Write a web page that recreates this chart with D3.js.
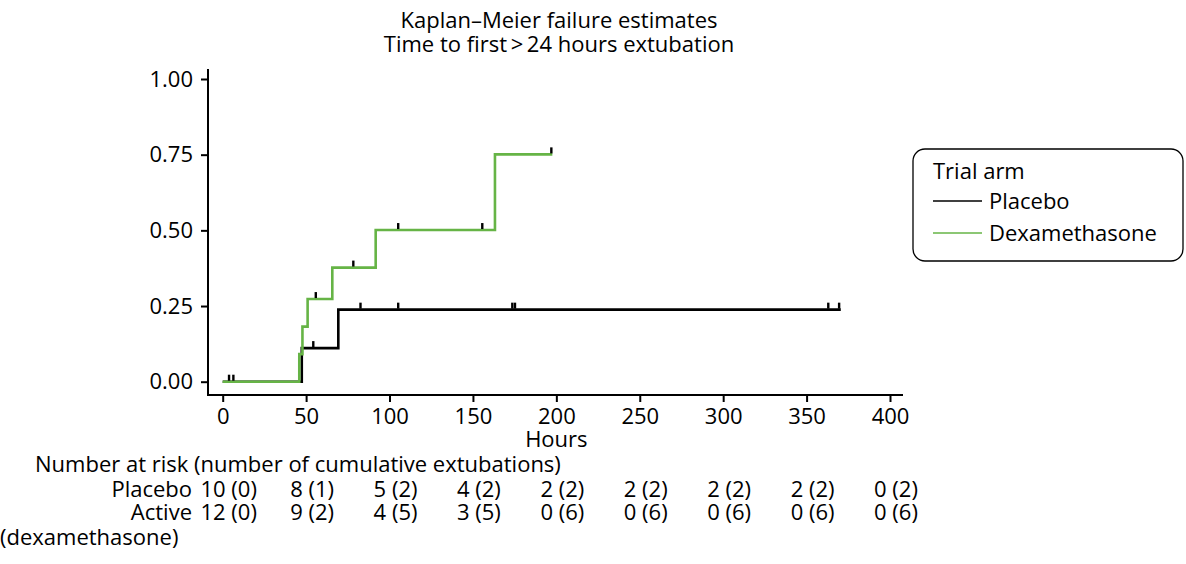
<!DOCTYPE html>
<html>
<head>
<meta charset="utf-8">
<script src="https://cdn.jsdelivr.net/npm/d3@7"></script>
<style>
  body { margin: 0; background: #fff; }
  text { font-family: "Open Sans", "Noto Sans", sans-serif; fill: #000; }
</style>
</head>
<body>
<script>
var width = 1186,
    height = 564,
    fontSize = "22px";

// Kaplan-Meier failure steps: [hours, cumulative failure]
var placeboSteps = [[0, 0], [47.4, 0.111], [69.3, 0.238], [370.5, 0.238]];
var dexaSteps = [[0, 0], [45.9, 0.091], [47.8, 0.182], [50.9, 0.273], [65.7, 0.377],
                 [91.7, 0.501], [163.2, 0.751], [197.6, 0.751]];
// censored observations: [hours, failure level]
var placeboCensor = [[3.8, 0], [54.3, 0.111], [82.6, 0.238], [105.2, 0.238], [173.6, 0.238],
                     [175.2, 0.238], [363, 0.238], [369.5, 0.238]];
var dexaCensor = [[6.4, 0], [55.8, 0.273], [78.3, 0.377], [105.2, 0.501], [155.6, 0.501], [197, 0.751]];

var xTicks = [0, 50, 100, 150, 200, 250, 300, 350, 400];
var yTicks = [0, 0.25, 0.5, 0.75, 1];
var riskTimes = [0, 50, 100, 150, 200, 250, 300, 350, 400];
var placeboAtRisk = [10, 8, 5, 4, 2, 2, 2, 2, 0];
var placeboCum = [0, 1, 2, 2, 2, 2, 2, 2, 2];
var activeAtRisk = [12, 9, 4, 3, 0, 0, 0, 0, 0];
var activeCum = [0, 2, 5, 5, 6, 6, 6, 6, 6];
var arms = ["Placebo", "Dexamethasone"];
var armColors = ["#000000", "#66b446"];

var x = d3.scaleLinear().domain([0, 400]).range([222.7, 890]);
var y = d3.scaleLinear().domain([0, 1]).range([381.7, 79]);

var svg = d3.select("body").append("svg")
  .attr("width", width)
  .attr("height", height);

// titles
svg.append("text").attr("x", 559).attr("y", 28).style("font-size", fontSize)
  .style("text-anchor", "middle").text("Kaplan\u2013Meier failure estimates");
svg.append("text").attr("x", 559).attr("y", 52).style("font-size", fontSize)
  .style("text-anchor", "middle").text("Time to first\u2009>\u200924 hours extubation");

// axes
svg.append("g")
  .attr("transform", "translate(208,0)")
  .call(d3.axisLeft(y).tickValues(yTicks).tickFormat(d3.format(".2f")).tickSize(7).tickPadding(8));
svg.append("g")
  .attr("transform", "translate(0,395)")
  .call(d3.axisBottom(x).tickValues(xTicks).tickSize(7).tickPadding(6));
svg.selectAll(".domain").remove();
svg.selectAll(".tick line").attr("stroke", "#000").attr("stroke-width", 2);
svg.selectAll(".tick text").style("font-size", fontSize).style("font-family", null);

svg.append("line").attr("x1", 208).attr("x2", 208).attr("y1", 69).attr("y2", 396)
  .attr("stroke", "#000").attr("stroke-width", 2);
svg.append("line").attr("x1", 207).attr("x2", 903).attr("y1", 395).attr("y2", 395)
  .attr("stroke", "#000").attr("stroke-width", 2);

svg.append("text").attr("x", x(200)).attr("y", 447).style("font-size", fontSize)
  .style("text-anchor", "middle").text("Hours");

// curves
var step = d3.line()
  .x(function (d) { return x(d[0]); })
  .y(function (d) { return y(d[1]); })
  .curve(d3.curveStepAfter);

svg.selectAll("path.km")
  .data([placeboSteps, dexaSteps])
  .enter()
  .append("path")
  .attr("class", "km")
  .attr("d", step)
  .attr("fill", "none")
  .attr("stroke", function (d, i) { return armColors[i]; })
  .attr("stroke-width", 2.6);

// censoring marks
svg.selectAll("line.cens")
  .data(placeboCensor.concat(dexaCensor))
  .enter()
  .append("line")
  .attr("class", "cens")
  .attr("x1", function (d) { return x(d[0]); })
  .attr("x2", function (d) { return x(d[0]); })
  .attr("y1", function (d) { return y(d[1]) - 1; })
  .attr("y2", function (d) { return y(d[1]) - 7; })
  .attr("stroke", "#000")
  .attr("stroke-width", 2.4);

// legend
svg.append("rect")
  .attr("x", 913).attr("y", 149).attr("width", 270).attr("height", 112)
  .attr("rx", 12).attr("ry", 12)
  .attr("fill", "#fff").attr("stroke", "#000").attr("stroke-width", 1.3);
svg.append("text").attr("x", 933).attr("y", 179).style("font-size", fontSize).text("Trial arm");
var leg = svg.selectAll("g.leg")
  .data(arms)
  .enter()
  .append("g")
  .attr("class", "leg")
  .attr("transform", function (d, i) { return "translate(933," + (201 + i * 32) + ")"; });
leg.append("line")
  .attr("x1", 0).attr("x2", 49)
  .attr("stroke", function (d, i) { return armColors[i]; })
  .attr("stroke-width", 1.6);
leg.append("text")
  .attr("x", 56).attr("y", 8)
  .style("font-size", fontSize)
  .text(function (d) { return d; });

// number at risk table
svg.append("text").attr("x", 35).attr("y", 472).style("font-size", fontSize)
  .text("Number at risk (number of cumulative extubations)");
var rows = [
  { label: "Placebo", risk: placeboAtRisk, cum: placeboCum, y: 497 },
  { label: "Active", risk: activeAtRisk, cum: activeCum, y: 520 }
];
rows.forEach(function (r) {
  svg.append("text").attr("x", 192).attr("y", r.y).style("font-size", fontSize)
    .style("text-anchor", "end").text(r.label);
  svg.selectAll(null)
    .data(riskTimes)
    .enter()
    .append("text")
    .attr("x", function (d) { return x(d) + 6; })
    .attr("y", r.y)
    .style("font-size", fontSize)
    .style("text-anchor", "middle")
    .text(function (d, i) { return r.risk[i] + " (" + r.cum[i] + ")"; });
});
svg.append("text").attr("x", 0).attr("y", 545).style("font-size", fontSize)
  .text("(dexamethasone)");
</script>
</body>
</html>
